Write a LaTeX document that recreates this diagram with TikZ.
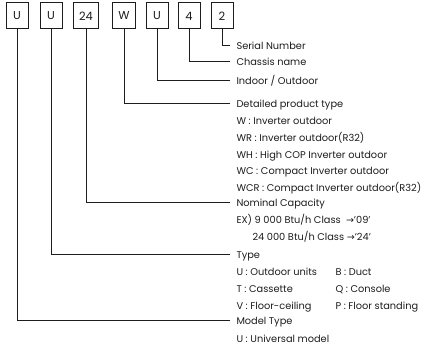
\documentclass[tikz,border=0pt]{standalone}
\usepackage{fontspec}
\setmainfont{Poppins}
\newfontfamily\arrowfont{DejaVu Sans}
\usetikzlibrary{positioning}
\definecolor{ink}{HTML}{1E1C1D}
\newcommand{\capto}{{\arrowfont\fontsize{9.5}{9.5}\selectfont →}}

\begin{document}
\begin{tikzpicture}[x=1pt, y=-1pt, ink, line width=1pt,
    codebox/.style={draw, minimum width=22pt, minimum height=26pt, inner xsep=6pt,
      font=\fontsize{11.5}{13}\selectfont},
    title/.style={anchor=west, inner sep=0pt, text height=7pt, text depth=0pt,
      font=\fontsize{9.8}{16.7}\selectfont},
    info/.style={anchor=base west, inner sep=0pt,
      font=\fontsize{9.8}{16.7}\selectfont},
    link/.style={shorten >=6pt}]
  \useasboundingbox (0,0) rectangle (434,347);

  % code boxes
  \foreach \c/\x [count=\i] in {U/17,U/51,24/86,W/124,U/157,4/189,2/222}
    \node[codebox] (b\i) at (\x,16) {\c};

  % headings
  \node[title] (serial) at (236,46) {Serial Number};
  \node[title] (chassis) at (236,62) {Chassis name};
  \node[title] (inout) at (236,81) {Indoor / Outdoor};
  \node[title] (product) at (236,104) {Detailed product type};
  \node[title] (capacity) at (236,203) {Nominal Capacity};
  \node[title] (type) at (236,255) {Type};
  \node[title] (model) at (236,321) {Model Type};

  % details
  \node[info] (productlist) at ([yshift=-16.7pt]product.south west)
    {\begin{tabular}[t]{@{}l@{}}
     W : Inverter outdoor\\
     WR : Inverter outdoor(R32)\\
     WH : High COP Inverter outdoor\\
     WC : Compact Inverter outdoor\\
     WCR : Compact Inverter outdoor(R32)
     \end{tabular}};
  \node[info] (capacitylist) at ([yshift=-16.7pt]capacity.south west)
    {\begin{tabular}[t]{@{}l@{}}
     EX) 9 000 Btu/h Class \ \capto'09'\\
     \hspace*{16pt}24 000 Btu/h Class \capto'24'
     \end{tabular}};
  \node[info] (typelist) at ([yshift=-16.7pt]type.south west)
    {\begin{tabular}[t]{@{}p{99pt}@{}l@{}}
     U : Outdoor units & B : Duct\\
     T : Cassette & Q : Console\\
     V : Floor-ceiling & P : Floor standing
     \end{tabular}};
  \node[info] (modellist) at ([yshift=-17.5pt]model.south west)
    {U : Universal model};

  % connectors
  \draw[link] (b7.south) |- (serial.west);
  \draw[link] (b6.south) |- (chassis.west);
  \draw[link] (b5.south) |- (inout.west);
  \draw[link] (b4.south) |- (product.west);
  \draw[link] (b3.south) |- (capacity.west);
  \draw[link] (b2.south) |- (type.west);
  \draw[link] (b1.south) |- (model.west);
\end{tikzpicture}
\end{document}
